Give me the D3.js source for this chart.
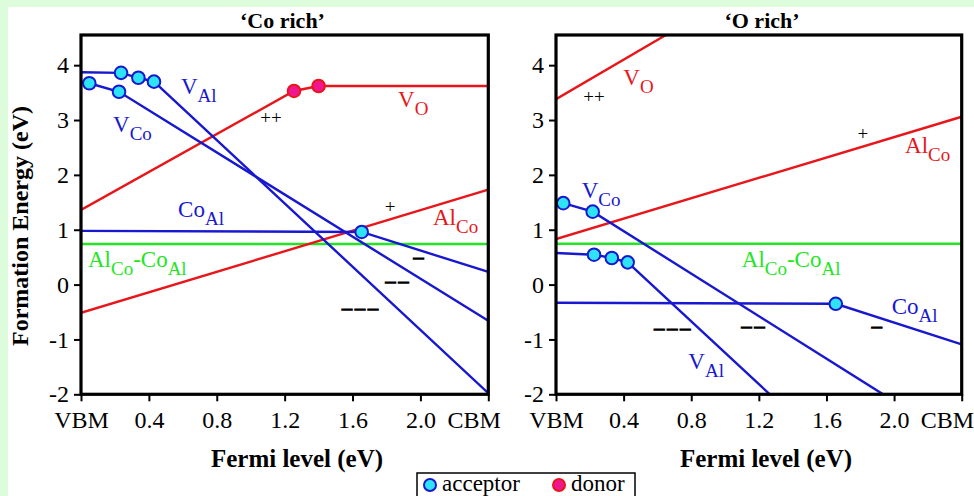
<!DOCTYPE html>
<html><head><meta charset="utf-8">
<script src="https://cdn.jsdelivr.net/npm/d3@7"></script>
<style>
html,body{margin:0;padding:0;background:#fff;}
svg{display:block;}
svg text{font-family:"Liberation Serif","Times New Roman",serif;}
</style></head><body>
<svg id="chart" width="974" height="496"></svg>
<script>
// ---------- data ----------
const xTickValues = [0, 0.4, 0.8, 1.2, 1.6, 2.0, 2.4];
const xTickLabels = ["VBM", "0.4", "0.8", "1.2", "1.6", "2.0", "CBM"];
const yTickValues = [-2, -1, 0, 1, 2, 3, 4];
const panelTitles = ["\u2018Co rich\u2019", "\u2018O rich\u2019"];
const xAxisTitle = "Fermi level (eV)";
const yAxisTitle = "Formation Energy (eV)";
const legendItems = ["acceptor", "donor"];

// 'Co rich' defect lines: [Fermi level, formation energy]; interior vertices are transition levels
const coRichVAl   = [[0, 3.87], [0.236, 3.86], [0.338, 3.77], [0.43, 3.70], [2.4, -1.98]];
const coRichVCo   = [[0, 3.70], [0.049, 3.67], [0.224, 3.515], [2.4, -0.66]];
const coRichCoAl  = [[0, 0.98], [1.654, 0.96], [2.4, 0.23]];
const coRichVO    = [[0, 1.36], [1.255, 3.53], [1.40, 3.62], [2.4, 3.62]];
const coRichAlCo  = [[0, -0.515], [2.4, 1.73]];
const coRichPair  = [[0, 0.74], [2.4, 0.74]];

// 'O rich' defect lines
const oRichVAl    = [[0, 0.576], [0.225, 0.545], [0.33, 0.485], [0.424, 0.405], [1.265, -2.0]];
const oRichVCo    = [[0, 1.52], [0.043, 1.485], [0.217, 1.33], [1.935, -2.0]];
const oRichCoAl   = [[0, -0.33], [1.655, -0.35], [2.4, -1.09]];
const oRichVO     = [[0, 3.38], [0.65, 4.55]];
const oRichAlCo   = [[0, 0.83], [2.4, 3.06]];
const oRichPair   = [[0, 0.745], [2.4, 0.745]];

// ---------- styles ----------
const BLUE = "#1818d0", RED = "#e8161a", GREEN = "#22e622";
const ACC_FILL = "#2ee4f4", DON_FILL = "#f0168e";
const FONT = '"Liberation Serif","Times New Roman",serif';

const panels = [
  {
    title: panelTitles[0], x0: 81, x1: 488.3, titleX: 282.5, xTitleX: 297,
    series: [
      {pts: coRichPair, color: GREEN, kind: null},
      {pts: coRichAlCo, color: RED, kind: null},
      {pts: coRichVO, color: RED, kind: "donor"},
      {pts: coRichCoAl, color: BLUE, kind: "acceptor"},
      {pts: coRichVCo, color: BLUE, kind: "acceptor"},
      {pts: coRichVAl, color: BLUE, kind: "acceptor"}
    ],
    labels: [
      {parts: [["V",0],["Al",1]], x: 0.589, y: 3.47, color: BLUE},
      {parts: [["V",0],["O",1]], x: 1.868, y: 3.24, color: RED},
      {parts: [["V",0],["Co",1]], x: 0.189, y: 2.78, color: BLUE},
      {parts: [["Co",0],["Al",1]], x: 0.572, y: 1.236, color: BLUE},
      {parts: [["Al",0],["Co",1]], x: 2.074, y: 1.09, color: RED},
      {parts: [["Al",0],["Co",1],["-Co",0],["Al",1]], x: 0.041, y: 0.318, color: GREEN}
    ],
    charges: [
      {t: "++", x: 1.12, y: 3.04, dash: false},
      {t: "+", x: 1.821, y: 1.418, dash: false},
      {t: "\u2013", x: 1.998, y: 0.49, dash: true},
      {t: "\u2013\u2013", x: 1.871, y: 0.055, dash: true},
      {t: "\u2013\u2013\u2013", x: 1.653, y: -0.436, dash: true}
    ]
  },
  {
    title: panelTitles[1], x0: 556, x1: 961.7, titleX: 762, xTitleX: 766,
    series: [
      {pts: oRichPair, color: GREEN, kind: null},
      {pts: oRichAlCo, color: RED, kind: null},
      {pts: oRichVO, color: RED, kind: "donor"},
      {pts: oRichCoAl, color: BLUE, kind: "acceptor"},
      {pts: oRichVCo, color: BLUE, kind: "acceptor"},
      {pts: oRichVAl, color: BLUE, kind: "acceptor"}
    ],
    labels: [
      {parts: [["V",0],["O",1]], x: 0.398, y: 3.636, color: RED},
      {parts: [["Al",0],["Co",1]], x: 2.065, y: 2.40, color: RED},
      {parts: [["V",0],["Co",1]], x: 0.152, y: 1.58, color: BLUE},
      {parts: [["Al",0],["Co",1],["-Co",0],["Al",1]], x: 1.099, y: 0.318, color: GREEN},
      {parts: [["Co",0],["Al",1]], x: 1.986, y: -0.545, color: BLUE},
      {parts: [["V",0],["Al",1]], x: 0.783, y: -1.545, color: BLUE}
    ],
    charges: [
      {t: "++", x: 0.225, y: 3.42, dash: false},
      {t: "+", x: 1.815, y: 2.74, dash: false},
      {t: "\u2013\u2013\u2013", x: 0.696, y: -0.806, dash: true},
      {t: "\u2013\u2013", x: 1.175, y: -0.77, dash: true},
      {t: "\u2013", x: 1.907, y: -0.776, dash: true}
    ]
  }
];

// ---------- drawing ----------
const svg = d3.select("#chart");
svg.append("rect").attr("width", 974).attr("height", 496).attr("fill", "#dcfcdc");
svg.append("rect").attr("x", 8).attr("y", 7).attr("width", 966).attr("height", 489).attr("fill", "#ffffff");

const TOP = 35, BOT = 394.3;
const y = d3.scaleLinear().domain([-2, 4.55]).range([BOT, TOP]);

panels.forEach((p, i) => {
  const x = d3.scaleLinear().domain([0, 2.4]).range([p.x0, p.x1]);
  const g = svg.append("g");
  const clipId = "clip" + i;
  svg.append("clipPath").attr("id", clipId).append("rect")
    .attr("x", p.x0).attr("y", TOP).attr("width", p.x1 - p.x0).attr("height", BOT - TOP);

  const line = d3.line().x(d => x(d[0])).y(d => y(d[1]));
  const plot = g.append("g").attr("clip-path", `url(#${clipId})`);
  p.series.forEach(s => {
    plot.append("path").attr("d", line(s.pts)).attr("fill", "none")
      .attr("stroke", s.color).attr("stroke-width", 2.4);
  });
  p.series.forEach(s => {
    if (!s.kind) return;
    s.pts.slice(1, -1).forEach(pt => {
      plot.append("circle").attr("cx", x(pt[0])).attr("cy", y(pt[1])).attr("r", 6.3)
        .attr("fill", s.kind === "acceptor" ? ACC_FILL : DON_FILL)
        .attr("stroke", s.kind === "acceptor" ? BLUE : RED).attr("stroke-width", 2);
    });
  });

  // labels
  p.labels.forEach(l => {
    const t = g.append("text").attr("x", x(l.x)).attr("y", y(l.y))
      .attr("fill", l.color).style("font-family", FONT).style("font-size", "23px");
    let prevSub = 0;
    l.parts.forEach(([txt, sub]) => {
      const ts = t.append("tspan").text(txt);
      if (sub && !prevSub) ts.attr("dy", 8).style("font-size", "19px");
      else if (!sub && prevSub) ts.attr("dy", -8);
      else if (sub) ts.style("font-size", "19px");
      prevSub = sub;
    });
  });
  p.charges.forEach(c => {
    const t = g.append("text").attr("x", x(c.x)).attr("y", y(c.y)).attr("dy", c.dash ? "0.3em" : "0.32em")
      .attr("text-anchor", "middle").attr("fill", "#000")
      .style("font-family", FONT)
      .style("font-size", c.dash ? "20px" : "19px")
      .style("letter-spacing", c.dash ? "3px" : "0px")
      .text(c.t);
    if (c.dash) t.attr("stroke", "#000").attr("stroke-width", 1.3);
  });

  // axes
  const xAxis = d3.axisBottom(x).tickValues(xTickValues)
    .tickFormat((d, k) => xTickLabels[k]).tickSize(7).tickPadding(10);
  const gx = g.append("g").attr("transform", `translate(0,${BOT})`).call(xAxis);
  const yAxis = d3.axisLeft(y).tickValues(yTickValues).tickFormat(d3.format("d")).tickSize(7).tickPadding(5);
  const gy = g.append("g").attr("transform", `translate(${p.x0},0)`).call(yAxis);
  [gx, gy].forEach(a => {
    a.select(".domain").remove();
    a.selectAll(".tick line").attr("stroke", "#000").attr("stroke-width", 2);
    a.selectAll("text").attr("fill", "#000")
      .style("font-family", FONT).style("font-size", "24px");
  });
  gy.selectAll("text").text(d => d < 0 ? "-" + Math.abs(d) : d);
  gx.selectAll(".tick text").filter(d => d === 2.4).attr("text-anchor", "end").attr("dx", 12);

  // frame
  g.append("rect").attr("x", p.x0).attr("y", TOP).attr("width", p.x1 - p.x0).attr("height", BOT - TOP)
    .attr("fill", "none").attr("stroke", "#000").attr("stroke-width", 3.2);

  // titles
  g.append("text").attr("x", p.titleX).attr("y", 28).attr("text-anchor", "middle")
    .style("font-family", FONT).style("font-size", "22px").style("font-weight", "bold").text(p.title);
  g.append("text").attr("x", p.xTitleX).attr("y", 467).attr("text-anchor", "middle")
    .style("font-family", FONT).style("font-size", "25px").style("font-weight", "bold").text(xAxisTitle);
});

svg.append("text").attr("transform", "translate(28,226) rotate(-90)").attr("text-anchor", "middle")
  .style("font-family", FONT).style("font-size", "24px").style("font-weight", "bold").text(yAxisTitle);

// legend
const lg = svg.append("g");
lg.append("rect").attr("x", 417).attr("y", 473).attr("width", 218).attr("height", 30)
  .attr("fill", "#fff").attr("stroke", "#000").attr("stroke-width", 1.5);
const legendX = [430, 559];
legendItems.forEach((name, k) => {
  lg.append("circle").attr("cx", legendX[k]).attr("cy", 485).attr("r", 6)
    .attr("fill", k === 0 ? ACC_FILL : DON_FILL).attr("stroke", k === 0 ? BLUE : RED).attr("stroke-width", 2);
  lg.append("text").attr("x", legendX[k] + 12).attr("y", 491)
    .style("font-family", FONT).style("font-size", "23px").text(name);
});
</script>
</body></html>
